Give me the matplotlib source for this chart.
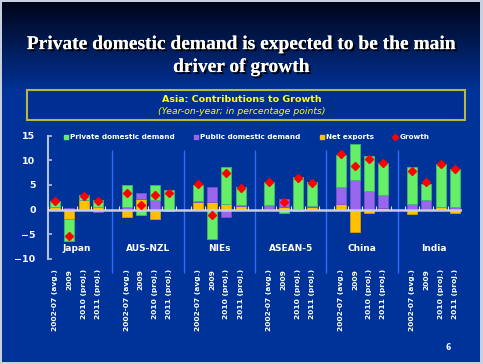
import numpy as np
import matplotlib
matplotlib.use('Agg')
import matplotlib.pyplot as plt
from matplotlib.lines import Line2D
from matplotlib.patches import Rectangle
import matplotlib.patheffects as pe

# 数据 (从图中读取, 单位: 百分点)
groups = ['Japan', 'AUS-NZL', 'NIEs', 'ASEAN-5', 'China', 'India']
periods = ['2002-07 (avg.)', '2009', '2010 (proj.)', '2011 (proj.)']

private = [1.3, -4.5, 1.0, 1.5,
           4.4, -1.1, 3.0, 4.0,
           3.3, -5.9, 7.5, 3.6,
           4.5, -0.7, 6.4, 4.7,
           6.6, 7.4, 7.2, 6.4,
           7.4, 3.3, 8.6, 7.8]
public = [0.0, 0.4, 0.0, -0.5,
          0.5, 1.1, 2.0, 0.0,
          0.2, 3.1, -1.5, 0.2,
          0.8, 1.7, 0.2, 0.3,
          3.3, 5.9, 3.7, 2.7,
          1.2, 1.75, 0.1, 0.5]
net_exports = [0.5, -1.9, 2.0, 0.5,
               -1.5, 2.2, -2.0, -0.3,
               1.5, 1.5, 1.1, 0.7,
               0.2, 0.5, -0.2, 0.5,
               1.2, -4.6, -0.7, 0.3,
               -0.9, 0.1, 0.5, -0.7]
growth = [1.7, -5.3, 2.7, 1.7,
          3.4, 0.9, 2.9, 3.3,
          5.1, -1.0, 7.4, 4.4,
          5.6, 1.6, 6.4, 5.4,
          11.2, 8.9, 10.3, 9.4,
          7.9, 5.6, 9.2, 8.3]

GREEN = '#66EE66'
PURPLE = '#9966EE'
YELLOW = '#FFC000'
RED = '#FF0000'

W, H = 483, 364
fig = plt.figure(figsize=(W / 100, H / 100), dpi=100)
fig.patch.set_facecolor('#C8D0E0')

# 背景渐变
bg = fig.add_axes([2 / W, 2 / H, 478 / W, 360 / H])
bg.set_axis_off()
rows = np.linspace(0, 1, 360)
top = np.array([0.0, 0.02, 0.10])
mid = np.array([0.0, 0.20, 0.60])
t = np.clip(rows / 0.25, 0, 1)[:, None]
grad = top * (1 - t) + mid * t
bg.imshow(grad[:, None, :], aspect='auto', extent=[0, 1, 0, 1])
bg.set_xlim(0, 1)
bg.set_ylim(0, 1)

# 标题
shadow = [pe.withSimplePatchShadow(offset=(1.5, -1.5), shadow_rgbFace='black', alpha=1.0), pe.Normal()]
fig.text(0.5, 1 - 56 / H, 'Private domestic demand is expected to be the main\ndriver of growth',
         ha='center', va='center', color='white', fontsize=14, fontweight='bold',
         family='Liberation Serif', linespacing=1.45, path_effects=shadow)

# 副标题框
fig.patches.append(Rectangle((27 / W, 1 - 120 / H), 438 / W, 30 / H, transform=fig.transFigure,
                             facecolor='#002E92', edgecolor='#B8B840', lw=1.5))
fig.text(0.5, 1 - 99 / H, 'Asia: Contributions to Growth', ha='center', va='center',
         color='#FFFF00', fontsize=6.8, fontweight='bold')
fig.text(0.5, 1 - 111.5 / H, '(Year-on-year; in percentage points)', ha='center', va='center',
         color='#FFFF00', fontsize=6.7, style='italic')

# 图表
ax = fig.add_axes([48 / W, 1 - 259 / H, 414 / W, 123.5 / H])
ax.set_facecolor('none')

x = np.array([g * 5 + i for g in range(len(groups)) for i in range(len(periods))])
pos_bottom = np.zeros(len(x))
neg_bottom = np.zeros(len(x))
for values, color, edge in [(net_exports, YELLOW, '#D9A000'),
                            (public, PURPLE, '#7A50C8'),
                            (private, GREEN, '#3FB870')]:
    v = np.array(values)
    bottom = np.where(v >= 0, pos_bottom, neg_bottom)
    ax.bar(x, v, 0.7, bottom=bottom, color=color, edgecolor=edge, lw=0.6, zorder=2)
    pos_bottom += np.where(v >= 0, v, 0)
    neg_bottom += np.where(v < 0, v, 0)

ax.plot(x, growth, ls='none', marker='D', color=RED, markersize=4, zorder=4)

ax.axhline(0, color='#C8CCE0', lw=1.8, zorder=3)
ax.vlines(np.arange(-0.5, 29, 1), -0.1, 0.7, color='#E0E4F0', lw=0.8, zorder=3)
ax.vlines([4, 9, 14, 19, 24], -12.8, 12.1, color='#2F6BFF', lw=1.0, clip_on=False, zorder=1)

for g, name in enumerate(groups):
    ax.text(g * 5 + 1.5, -7.9, name, ha='center', va='center', color='white',
            fontsize=6.5, fontweight='bold')

ax.set_xlim(-0.5, 28.5)
ax.set_ylim(-10, 15)
ax.set_yticks([-10, -5, 0, 5, 10, 15])
ax.set_xticks(x)
ax.set_xticklabels(periods * len(groups), rotation=90)
ax.tick_params(axis='x', length=0, pad=7, labelsize=5.4, labelcolor='white')
ax.tick_params(axis='y', direction='in', length=3, width=1.2, color='#B8C0D8', pad=9,
               labelsize=6.8, labelcolor='white')
for lab in ax.get_xticklabels() + ax.get_yticklabels():
    lab.set_fontweight('bold')
for side in ['top', 'right', 'bottom']:
    ax.spines[side].set_visible(False)
ax.spines['left'].set_color('#B8C0D8')
ax.spines['left'].set_linewidth(1.5)

handles = [Line2D([], [], ls='none', marker='s', color=GREEN, markersize=3.5),
           Line2D([], [], ls='none', marker='s', color=PURPLE, markersize=3.5),
           Line2D([], [], ls='none', marker='s', color=YELLOW, markersize=3.5),
           Line2D([], [], ls='none', marker='D', color=RED, markersize=3.2)]
labels = ['Private domestic demand', 'Public domestic demand', 'Net exports', 'Growth']
ax.legend(handles, labels, loc='center left', bbox_to_anchor=(0.028, 0.985), ncol=4,
          frameon=False, borderpad=0, handlelength=0.8, handletextpad=0.2, columnspacing=2.5,
          labelcolor='white', prop={'size': 5.2, 'weight': 'bold'})

fig.text(448 / W, 1 - 347 / H, '6', ha='center', va='center', color='white', fontsize=5.5,
         fontweight='bold')

fig.savefig('out.png', dpi=100, facecolor=fig.get_facecolor())
